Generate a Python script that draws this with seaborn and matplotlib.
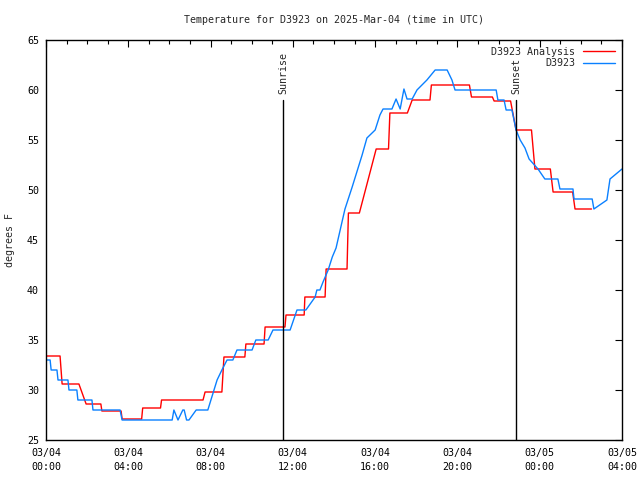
import numpy as np
import pandas as pd
import matplotlib
matplotlib.use('Agg')
import matplotlib.pyplot as plt
import matplotlib.dates as mdates
import seaborn as sns

# D3923 Analysis (red)
ana_times = ['03-04 00:00', '03-04 00:41', '03-04 00:47', '03-04 01:36', '03-04 01:57',
             '03-04 02:40', '03-04 02:43', '03-04 03:39', '03-04 03:42', '03-04 04:39',
             '03-04 04:42', '03-04 05:34', '03-04 05:37', '03-04 07:38', '03-04 07:44',
             '03-04 08:33', '03-04 08:39', '03-04 09:40', '03-04 09:43', '03-04 10:36',
             '03-04 10:39', '03-04 11:37', '03-04 11:40', '03-04 12:33', '03-04 12:35',
             '03-04 13:34', '03-04 13:37', '03-04 14:38', '03-04 14:42', '03-04 15:14',
             '03-04 16:03', '03-04 16:39', '03-04 16:43', '03-04 17:34', '03-04 17:48',
             '03-04 18:40', '03-04 18:44', '03-04 20:35', '03-04 20:41', '03-04 21:42',
             '03-04 21:47', '03-04 22:35', '03-04 22:51', '03-04 23:36', '03-04 23:46',
             '03-05 00:31', '03-05 00:39', '03-05 01:36', '03-05 01:43', '03-05 02:31']
ana_temp = [33.4, 33.4, 30.6, 30.6, 28.6,
            28.6, 27.9, 27.9, 27.1, 27.1,
            28.2, 28.2, 29.0, 29.0, 29.8,
            29.8, 33.3, 33.3, 34.6, 34.6,
            36.3, 36.3, 37.5, 37.5, 39.3,
            39.3, 42.1, 42.1, 47.7, 47.7,
            54.1, 54.1, 57.7, 57.7, 59.0,
            59.0, 60.5, 60.5, 59.3, 59.3,
            58.9, 58.9, 56.0, 56.0, 52.1,
            52.1, 49.8, 49.8, 48.1, 48.1]

# D3923 observations (blue)
obs_times = ['03-04 00:00', '03-04 00:12', '03-04 00:15', '03-04 00:32', '03-04 00:35',
             '03-04 01:04', '03-04 01:07', '03-04 01:30', '03-04 01:33', '03-04 02:14',
             '03-04 02:17', '03-04 03:36', '03-04 03:42', '03-04 06:08', '03-04 06:13',
             '03-04 06:25', '03-04 06:39', '03-04 06:43', '03-04 06:50', '03-04 06:57',
             '03-04 07:18', '03-04 07:52', '03-04 08:01', '03-04 08:10', '03-04 08:19',
             '03-04 08:33', '03-04 08:48', '03-04 09:05', '03-04 09:17', '03-04 10:01',
             '03-04 10:12', '03-04 10:48', '03-04 11:02', '03-04 11:52', '03-04 12:12',
             '03-04 12:38', '03-04 13:05', '03-04 13:10', '03-04 13:19', '03-04 13:28',
             '03-04 13:43', '03-04 13:55', '03-04 14:06', '03-04 14:18', '03-04 14:32',
             '03-04 14:53', '03-04 15:22', '03-04 15:36', '03-04 16:00', '03-04 16:14',
             '03-04 16:23', '03-04 16:49', '03-04 17:01', '03-04 17:13', '03-04 17:24',
             '03-04 17:33', '03-04 17:48', '03-04 18:02', '03-04 18:31', '03-04 18:55',
             '03-04 19:30', '03-04 19:44', '03-04 19:53', '03-04 21:53', '03-04 21:58',
             '03-04 22:16', '03-04 22:22', '03-04 22:39', '03-04 22:51', '03-04 23:03',
             '03-04 23:17', '03-04 23:29', '03-04 23:55', '03-05 00:15', '03-05 00:53',
             '03-05 00:59', '03-05 01:37', '03-05 01:40', '03-05 02:33', '03-05 02:38',
             '03-05 03:16', '03-05 03:25', '03-05 04:00']
obs_temp = [33, 33, 32, 32, 31,
            31, 30, 30, 29, 29,
            28, 28, 27, 27, 28,
            27, 28, 28, 27, 27,
            28, 28, 29, 30, 31,
            32, 33, 33, 34, 34,
            35, 35, 36, 36, 38,
            38, 39.3, 40, 40, 40.8,
            42, 43.3, 44.2, 46, 48.1,
            50.3, 53.5, 55.2, 56, 57.5,
            58.1, 58.1, 59.1, 58.1, 60.1,
            59.1, 59.1, 60, 61, 62,
            62, 61, 60, 60, 59,
            59, 58, 58, 56, 55,
            54.2, 53.1, 52.1, 51.1, 51.1,
            50.1, 50.1, 49.1, 49.1, 48.1,
            49, 51.1, 52.1]

sunrise = '03-04 11:31'
sunset = '03-04 22:51'
sun_top = 59

def to_dt(s):
    return pd.to_datetime(['2025-' + t for t in s])

ana = pd.DataFrame({'time': to_dt(ana_times), 'temp': ana_temp})
obs = pd.DataFrame({'time': to_dt(obs_times), 'temp': obs_temp})

fs = 7.2
sns.set_style('white')
plt.rcParams['font.family'] = ['DejaVu Sans Mono']
plt.rcParams['font.size'] = fs

fig = plt.figure(figsize=(6.4, 4.8), dpi=100)
ax = fig.add_axes([46 / 640, 40 / 480, 576 / 640, 400 / 480])

sns.lineplot(data=ana, x='time', y='temp', ax=ax, color='#ff0000', lw=1,
             estimator=None, sort=False, label='D3923 Analysis')
sns.lineplot(data=obs, x='time', y='temp', ax=ax, color='#0a80ff', lw=1,
             estimator=None, sort=False, label='D3923')

t0 = pd.Timestamp('2025-03-04 00:00')
t1 = pd.Timestamp('2025-03-05 04:00')
ax.set_xlim(t0, t1)
ax.set_ylim(25, 65)

frac = (sun_top - 25) / 40
for t, name in [(sunrise, 'Sunrise'), (sunset, 'Sunset')]:
    tt = pd.Timestamp('2025-' + t)
    ax.axvline(tt, ymin=0, ymax=frac, color='black', lw=1)
    ax.text(tt, sun_top + 0.6, name, rotation=90, ha='center', va='bottom', fontsize=fs)

ax.xaxis.set_major_locator(mdates.HourLocator(byhour=[0, 4, 8, 12, 16, 20]))
ax.xaxis.set_minor_locator(mdates.HourLocator())
ax.xaxis.set_major_formatter(mdates.DateFormatter('%m/%d\n%H:%M'))
ax.set_yticks(np.arange(25, 66, 5))
ax.tick_params(axis='both', which='both', direction='in', top=True, right=True,
               width=0.8, colors='black', labelsize=fs)
ax.tick_params(which='major', length=5)
ax.tick_params(which='minor', length=3)
ax.tick_params(axis='x', pad=6)
ax.tick_params(axis='y', pad=5)
for lab in ax.get_xticklabels():
    lab.set_horizontalalignment('center')
    lab.set_linespacing(1.5)
for s in ax.spines.values():
    s.set_color('black')
    s.set_linewidth(1)

ax.set_xlabel('')
ax.set_ylabel('degrees F', fontsize=fs)
ax.yaxis.set_label_coords(-0.054, 0.5)
ax.set_title('Temperature for D3923 on 2025-Mar-04 (time in UTC)', fontsize=fs, pad=12)

ax.legend(loc='upper right', frameon=False, markerfirst=False, fontsize=fs,
          handlelength=3.2, handletextpad=0.8, labelspacing=0.15,
          borderaxespad=0.5, borderpad=0.2)

fig.savefig('out.png', dpi=100)
